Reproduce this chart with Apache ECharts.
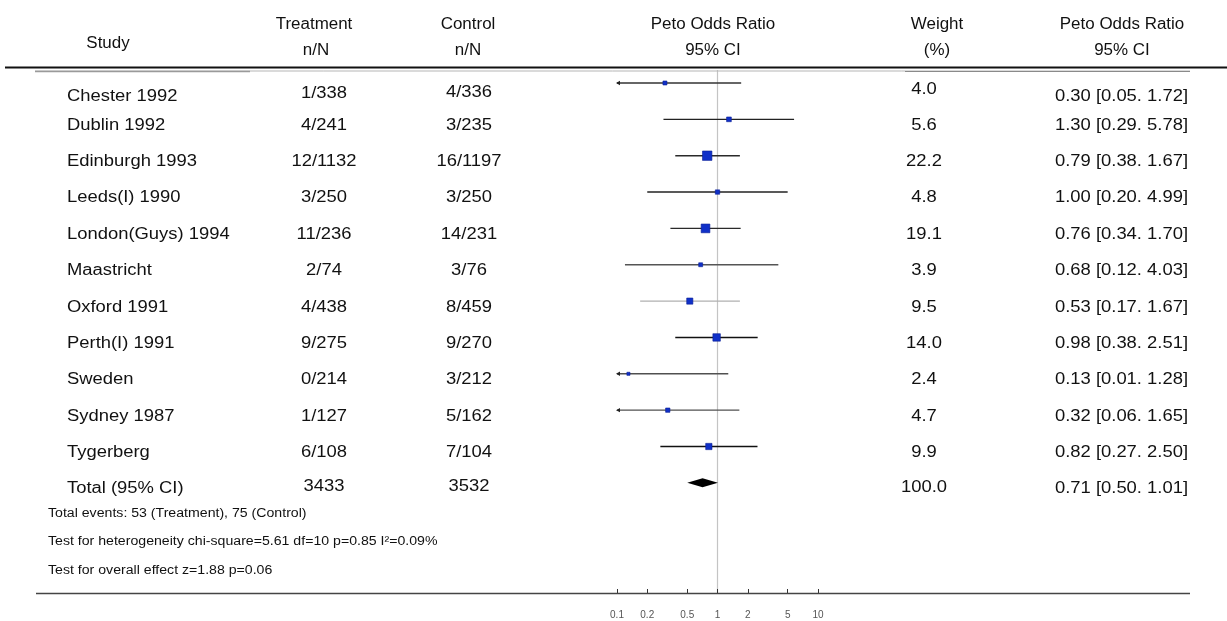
<!DOCTYPE html>
<html>
<head>
<meta charset="utf-8">
<script src="https://cdn.jsdelivr.net/npm/echarts@6/dist/echarts.min.js"></script>
<style>
  html, body { margin: 0; padding: 0; background: #fff; }
  #main { width: 1227px; height: 621px; }
</style>
</head>
<body>
<div id="main"></div>
<script>
// ---- Study data (Peto odds ratio meta-analysis) ----
const studies = ['Chester 1992', 'Dublin 1992', 'Edinburgh 1993', 'Leeds(I) 1990', 'London(Guys) 1994',
  'Maastricht', 'Oxford 1991', 'Perth(I) 1991', 'Sweden', 'Sydney 1987', 'Tygerberg'];
const treatEvents = [1, 4, 12, 3, 11, 2, 4, 9, 0, 1, 6];
const treatTotals = [338, 241, 1132, 250, 236, 74, 438, 275, 214, 127, 108];
const ctrlEvents = [4, 3, 16, 3, 14, 3, 8, 9, 3, 5, 7];
const ctrlTotals = [336, 235, 1197, 250, 231, 76, 459, 270, 212, 162, 104];
const weights = [4.0, 5.6, 22.2, 4.8, 19.1, 3.9, 9.5, 14.0, 2.4, 4.7, 9.9];
const oddsRatio = [0.30, 1.30, 0.79, 1.00, 0.76, 0.68, 0.53, 0.98, 0.13, 0.32, 0.82];
const ciLower = [0.05, 0.29, 0.38, 0.20, 0.34, 0.12, 0.17, 0.38, 0.01, 0.06, 0.27];
const ciUpper = [1.72, 5.78, 1.67, 4.99, 1.70, 4.03, 1.67, 2.51, 1.28, 1.65, 2.50];

// Pooled result
const totalLabel = 'Total (95% CI)';
const totalTreatN = 3433;
const totalCtrlN = 3532;
const totalWeight = 100.0;
const totalOR = 0.71;
const totalLower = 0.50;
const totalUpper = 1.01;

const footnotes = [
  'Total events: 53 (Treatment), 75 (Control)',
  'Test for heterogeneity chi-square=5.61 df=10 p=0.85 I\u00b2=0.09%',
  'Test for overall effect z=1.88 p=0.06'
];
const xTicks = [0.1, 0.2, 0.5, 1, 2, 5, 10];
const noEffect = 1;

// ---- Styling ----
const ciColors = ['#333333', '#222222', '#2a2a2a', '#222222', '#2a2a2a', '#555555',
  '#b0b0b0', '#111111', '#505050', '#505050', '#111111'];
const boxColor = '#1030c8';
const FONT = '"Liberation Sans", Arial, Helvetica, sans-serif';
const X_MIN = 0.1, X_MAX = 10;
const TOTAL_ROW = studies.length;

const chart = echarts.init(document.getElementById('main'), null, { renderer: 'canvas' });

const ciData = studies.map((s, i) => [ciLower[i], ciUpper[i], i, i]);
const boxData = studies.map((s, i) => [oddsRatio[i], i, weights[i]]);

chart.setOption({
  animation: false,
  backgroundColor: '#fff',
  grid: { left: 617, right: 409, top: 70, bottom: 28, containLabel: false },
  xAxis: {
    type: 'log', logBase: 10, min: X_MIN, max: X_MAX,
    axisLine: { show: false, onZero: false },
    splitLine: { show: false },
    axisTick: { show: true, inside: true, length: 4, customValues: xTicks, lineStyle: { color: '#333', width: 1 } },
    axisLabel: {
      customValues: xTicks, fontSize: 10, color: '#555', fontFamily: FONT, margin: 17,
      formatter: v => String(Math.round(v * 10) / 10)
    }
  },
  yAxis: { type: 'value', inverse: true, min: -0.3575, max: 14.03, show: false },
  series: [
    {
      // vertical line of no effect, kept beneath every mark
      type: 'scatter',
      data: [],
      z: 0,
      markLine: {
        silent: true,
        symbol: 'none',
        z: 0,
        label: { show: false },
        lineStyle: { color: '#c4c4c4', width: 1.2, type: 'solid' },
        data: [{ xAxis: noEffect }]
      }
    },
    {
      // confidence interval whiskers, clipped at the axis minimum with an arrow
      type: 'custom',
      encode: { x: [0, 1], y: 2 },
      data: ciData,
      z: 2,
      renderItem: (params, api) => {
        const lo = api.value(0), hi = api.value(1), row = api.value(2), idx = api.value(3);
        const clipped = lo < X_MIN;
        const p1 = api.coord([Math.max(lo, X_MIN), row]);
        const p2 = api.coord([Math.min(hi, X_MAX), row]);
        const color = ciColors[idx];
        const children = [{
          type: 'line',
          shape: { x1: p1[0], y1: p1[1], x2: p2[0], y2: p2[1] },
          style: { stroke: color, lineWidth: 1.4 }
        }];
        if (clipped) {
          children.push({
            type: 'polygon',
            shape: { points: [[p1[0] - 1, p1[1]], [p1[0] + 3, p1[1] - 2.2], [p1[0] + 3, p1[1] + 2.2]] },
            style: { fill: '#222' }
          });
        }
        return { type: 'group', children };
      }
    },
    {
      // study estimates, box area follows the study weight
      type: 'scatter',
      data: boxData,
      symbol: 'rect',
      symbolSize: v => 2 * Math.sqrt(v[2]),
      itemStyle: { color: boxColor, opacity: 1, borderColor: '#0a1f96', borderWidth: 0.6 },
      z: 5
    },
    {
      // pooled estimate diamond
      type: 'custom',
      encode: { x: [0, 1, 2], y: 3 },
      data: [[totalLower, totalOR, totalUpper, TOTAL_ROW]],
      z: 4,
      renderItem: (params, api) => {
        const row = api.value(3);
        const l = api.coord([api.value(0), row]);
        const c = api.coord([api.value(1), row]);
        const r = api.coord([api.value(2), row]);
        return {
          type: 'polygon',
          shape: { points: [[l[0], l[1]], [c[0], c[1] - 4.5], [r[0], r[1]], [c[0], c[1] + 4.5]] },
          style: { fill: '#000' }
        };
      }
    }
  ]
});

// ---- Table text around the plot ----
const ROW_SX = 1.15, HEAD_SX = 1.06, FOOT_SX = 1.13;
function txt(str, x, y, size, align, sx, color) {
  return {
    type: 'text', x: x, y: y, scaleX: sx, silent: true, z: 10,
    style: {
      text: str, x: 0, y: 0, font: size + 'px ' + FONT,
      fill: color || '#111', align: align, verticalAlign: 'middle',
      textAlign: align, textVerticalAlign: 'middle'
    }
  };
}
function hline(x1, x2, y, color, w) {
  return { type: 'line', silent: true, z: 1, shape: { x1, y1: y, x2, y2: y }, style: { stroke: color, lineWidth: w } };
}

const rowY = r => chart.convertToPixel({ gridIndex: 0 }, [1, r])[1] + 6;
const fmtCI = (o, l, h) => o.toFixed(2) + ' [' + l.toFixed(2) + '. ' + h.toFixed(2) + ']';

const COL = { study: 67, treat: 324, ctrl: 469, forest: 713, weight: 924, ci: 1188 };
// the first row of the table sits a little lower than its whisker
const firstRowShift = { study: 8, treat: 5, ctrl: 4, weight: 1, ci: 8 };
const elements = [];

// header
const H1 = 25, H2 = 51, HS = 16;
elements.push(txt('Study', 108, 44, HS, 'center', HEAD_SX));
elements.push(txt('Treatment', 314, H1, HS, 'center', HEAD_SX));
elements.push(txt('n/N', 316, H2, HS, 'center', HEAD_SX));
elements.push(txt('Control', 468, H1, HS, 'center', HEAD_SX));
elements.push(txt('n/N', 468, H2, HS, 'center', HEAD_SX));
elements.push(txt('Peto Odds Ratio', COL.forest, H1, HS, 'center', HEAD_SX));
elements.push(txt('95% CI', COL.forest, H2, HS, 'center', HEAD_SX));
elements.push(txt('Weight', 937, H1, HS, 'center', HEAD_SX));
elements.push(txt('(%)', 937, H2, HS, 'center', HEAD_SX));
elements.push(txt('Peto Odds Ratio', 1122, H1, HS, 'center', HEAD_SX));
elements.push(txt('95% CI', 1122, H2, HS, 'center', HEAD_SX));

// rules
elements.push(hline(5, 1227, 67.5, '#111', 2));
elements.push(hline(35, 1190, 71, '#b5b5b5', 1));
elements.push(hline(35, 250, 71.5, '#9a9a9a', 1.5));
elements.push(hline(905, 1190, 71.5, '#8a8a8a', 1.2));
elements.push(hline(36, 1190, 593.5, '#444', 1.5));

// study rows
const RS = 16;
studies.forEach((s, i) => {
  const y = rowY(i);
  const sh = i === 0 ? firstRowShift : { study: 0, treat: 0, ctrl: 0, weight: 0, ci: 0 };
  elements.push(txt(s, COL.study, y + sh.study, RS, 'left', ROW_SX));
  elements.push(txt(treatEvents[i] + '/' + treatTotals[i], COL.treat, y + sh.treat, RS, 'center', ROW_SX));
  elements.push(txt(ctrlEvents[i] + '/' + ctrlTotals[i], COL.ctrl, y + sh.ctrl, RS, 'center', ROW_SX));
  elements.push(txt(weights[i].toFixed(1), COL.weight, y + sh.weight, RS, 'center', ROW_SX));
  elements.push(txt(fmtCI(oddsRatio[i], ciLower[i], ciUpper[i]), COL.ci, y + sh.ci, RS, 'right', ROW_SX));
});
{
  const y = rowY(TOTAL_ROW);
  elements.push(txt(totalLabel, COL.study, y, RS, 'left', ROW_SX));
  elements.push(txt(String(totalTreatN), COL.treat, y - 2, RS, 'center', ROW_SX));
  elements.push(txt(String(totalCtrlN), COL.ctrl, y - 2, RS, 'center', ROW_SX));
  elements.push(txt(totalWeight.toFixed(1), COL.weight, y - 1, RS, 'center', ROW_SX));
  elements.push(txt(fmtCI(totalOR, totalLower, totalUpper), COL.ci, y, RS, 'right', ROW_SX));
}

// footnotes
const footY = [514, 542, 571];
footnotes.forEach((f, i) => elements.push(txt(f, 48, footY[i], 12.5, 'left', FOOT_SX)));

chart.setOption({ graphic: { elements } });
</script>
</body>
</html>
